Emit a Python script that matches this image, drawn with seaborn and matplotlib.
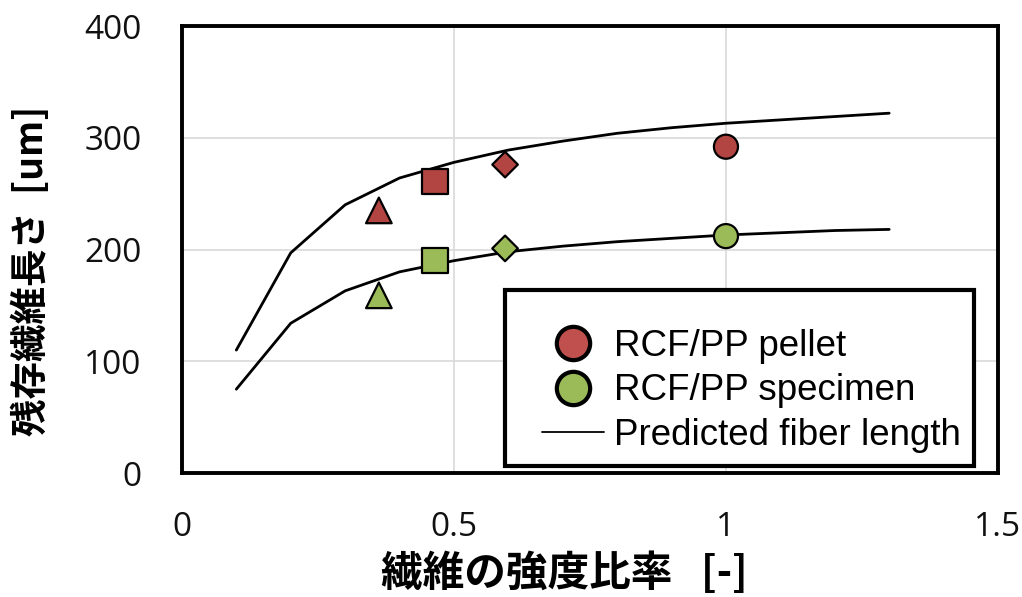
import matplotlib
matplotlib.use("Agg")
import matplotlib.pyplot as plt
from matplotlib.lines import Line2D
from matplotlib.legend_handler import HandlerLine2D
import seaborn as sns
import pandas as pd

# ---- data ----
pred_x = [0.1, 0.2, 0.3, 0.4, 0.5, 0.6, 0.7, 0.8, 0.9, 1.0, 1.1, 1.2, 1.3]
pred_pellet = [110, 197, 240, 264, 278, 289, 297, 304, 309, 313, 316, 319, 322]
pred_specimen = [75, 134, 163, 180, 190, 198, 203, 207, 210, 213, 215, 217, 218]

meas_x = [0.362, 0.465, 0.594, 1.0]
meas_shape = ["tri", "sq", "dia", "circ"]
pellet_y = [235, 261, 276, 292]
specimen_y = [159, 190, 201, 212]

legend_labels = ["RCF/PP pellet", "RCF/PP specimen", "Predicted fiber length"]
x_ticks = [0, 0.5, 1, 1.5]
x_tick_labels = ["0", "0.5", "1", "1.5"]
y_ticks = [0, 100, 200, 300, 400]
y_tick_labels = ["0", "100", "200", "300", "400"]

red = "#b24542"
green = "#9bbb59"
red_leg = "#c0504d"

sns.set_theme(style="white")
plt.rcParams["font.family"] = ["Open Sans", "DejaVu Sans"]
plt.rcParams["text.color"] = "black"

fig = plt.figure(figsize=(10.22, 5.97), dpi=100)
ax = fig.add_axes([0.178, 0.2077, 0.7985, 0.7487])

# predicted curves
pred_df = pd.DataFrame({
    "x": pred_x * 2,
    "y": pred_pellet + pred_specimen,
    "series": ["pellet"] * len(pred_x) + ["specimen"] * len(pred_x),
})
sns.lineplot(data=pred_df, x="x", y="y", units="series", estimator=None,
             color="black", linewidth=2.0, ax=ax, legend=False, zorder=3)

# measured points
meas_df = pd.DataFrame({
    "x": meas_x * 2,
    "y": pellet_y + specimen_y,
    "series": ["pellet"] * 4 + ["specimen"] * 4,
    "shape": meas_shape * 2,
})
markers = {"tri": "^", "sq": "s", "dia": "D", "circ": "o"}
sizes = {"tri": 340, "sq": 330, "dia": 170, "circ": 300}
sns.scatterplot(data=meas_df, x="x", y="y", hue="series", style="shape",
                size="shape", markers=markers, sizes=sizes,
                palette={"pellet": red, "specimen": green},
                edgecolor="black", linewidth=1.6, ax=ax, legend=False,
                zorder=4)

ax.set_xlim(0, 1.5)
ax.set_ylim(0, 400)
ax.set_xticks(x_ticks)
ax.set_xticklabels(x_tick_labels)
ax.set_yticks(y_ticks)
ax.set_yticklabels(y_tick_labels)
ax.tick_params(axis="both", length=0, labelsize=24, labelcolor="#111111")
ax.tick_params(axis="x", pad=27)
ax.tick_params(axis="y", pad=29)

ax.grid(True, color="#d9d9d9", linewidth=1.2)
ax.set_axisbelow(True)
for sp in ax.spines.values():
    sp.set_color("black")
    sp.set_linewidth(2.8)

cjk = ["Noto Sans CJK JP", "DejaVu Sans"]
ax.set_xlabel("繊維の強度比率   [-]", fontsize=30, fontweight="bold",
              family=cjk, color="black")
ax.set_ylabel("残存繊維長さ  [um]", fontsize=27, fontweight="bold",
              family=cjk, color="black")
ax.xaxis.label.set_va("center")
ax.yaxis.label.set_va("center")
ax.xaxis.set_label_coords(0.469, -0.226)
ax.yaxis.set_label_coords(-0.184, 0.452)


class ShiftedHandler(HandlerLine2D):
    """Leaves an empty gap before the handle so it sits further right."""
    def __init__(self, shift, **kw):
        super().__init__(**kw)
        self.shift = shift

    def create_artists(self, legend, orig_handle, xdescent, ydescent,
                       width, height, fontsize, trans):
        s = self.shift
        return super().create_artists(legend, orig_handle, xdescent - s,
                                      ydescent, width - s, height,
                                      fontsize, trans)


handles = [
    Line2D([], [], linestyle="none", marker="o", markersize=24,
           markerfacecolor=red_leg, markeredgecolor="black", markeredgewidth=3),
    Line2D([], [], linestyle="none", marker="o", markersize=24,
           markerfacecolor=green, markeredgecolor="black", markeredgewidth=3),
    Line2D([], [], color="black", linewidth=1.3),
]
hm = {h: ShiftedHandler(17.0) for h in handles}
leg = ax.legend(handles, legend_labels, loc="lower right",
                bbox_to_anchor=(0.971, 0.015), frameon=True, fancybox=False,
                framealpha=1, edgecolor="black",
                prop={"family": "Liberation Sans", "size": 26.5},
                title=" ", title_fontsize=11.5,
                handler_map=hm, labelcolor="black",
                handlelength=2.33, handletextpad=0.27, labelspacing=0.26,
                borderpad=0.36, borderaxespad=0)
leg.get_frame().set_linewidth(3)

fig.savefig("out.png", dpi=100)
